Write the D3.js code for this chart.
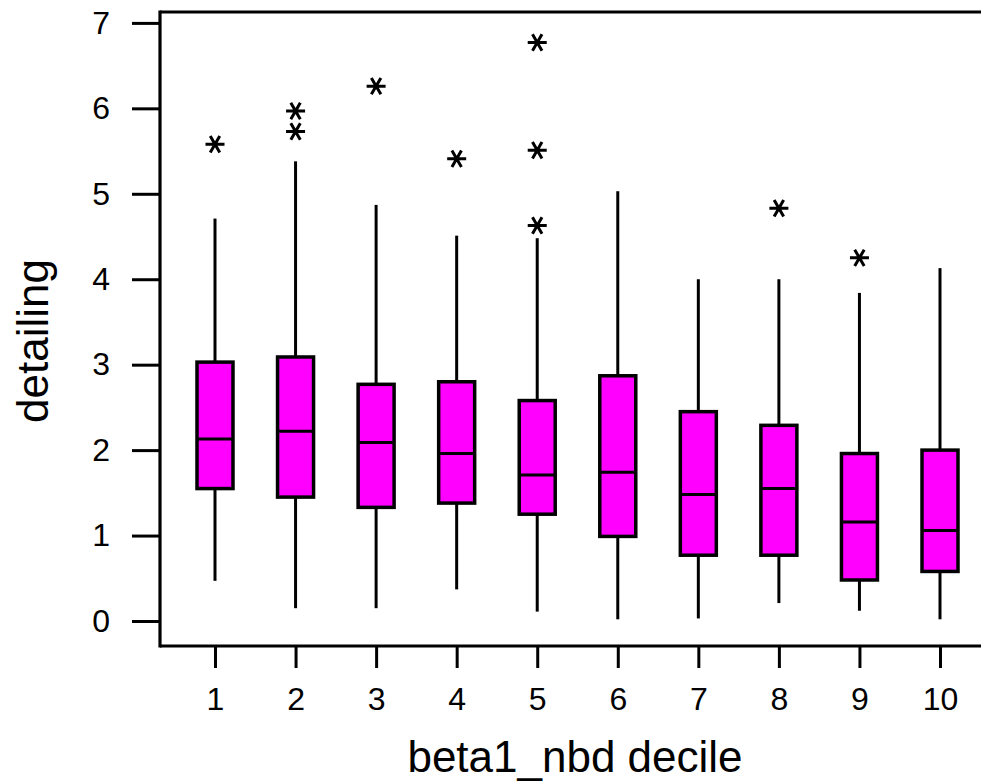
<!DOCTYPE html>
<html>
<head>
<meta charset="utf-8">
<script src="https://cdn.jsdelivr.net/npm/d3@7"></script>
<style>
  html, body { margin: 0; padding: 0; background: #fff; }
  svg { display: block; }
  text { font-family: "Liberation Sans", Arial, sans-serif; fill: #000; }
</style>
</head>
<body>
<svg id="chart" width="981" height="782"></svg>
<script>
const categories = ["1","2","3","4","5","6","7","8","9","10"];
const whiskerLow  = [0.47, 0.15, 0.15, 0.37, 0.11, 0.02, 0.03, 0.21, 0.12, 0.02];
const q1          = [1.55, 1.45, 1.33, 1.38, 1.25, 0.99, 0.77, 0.77, 0.48, 0.58];
const median      = [2.13, 2.22, 2.09, 1.96, 1.71, 1.74, 1.48, 1.55, 1.16, 1.06];
const q3          = [3.03, 3.09, 2.77, 2.80, 2.58, 2.87, 2.45, 2.29, 1.96, 2.00];
const whiskerHigh = [4.71, 5.38, 4.87, 4.51, 4.48, 5.03, 4.00, 4.00, 3.84, 4.13];
const outliers    = [[5.58], [5.73, 5.97], [6.26], [5.41], [4.63, 5.51, 6.77], [], [], [4.83], [4.25], []];
const yTicks = [0, 1, 2, 3, 4, 5, 6, 7];
const xTitle = "beta1_nbd decile";
const yTitle = "detailing";

const svg = d3.select("#chart");
const frame = { left: 160, top: 12, right: 981, bottom: 646 };

const x = d3.scalePoint().domain(categories).range([215, 940]);
const y = d3.scaleLinear().domain([0, 7]).range([621, 22.9]);

const boxW = 36;
const fill = "#FF00FF";

// Frame lines (left, top, bottom)
svg.append("line").attr("x1", frame.left).attr("x2", frame.left)
  .attr("y1", frame.top - 1.5).attr("y2", frame.bottom + 1.5)
  .attr("stroke", "#000").attr("stroke-width", 3.2);
svg.append("line").attr("x1", frame.left).attr("x2", frame.right)
  .attr("y1", frame.top).attr("y2", frame.top)
  .attr("stroke", "#000").attr("stroke-width", 3.2);
svg.append("line").attr("x1", frame.left).attr("x2", frame.right)
  .attr("y1", frame.bottom).attr("y2", frame.bottom)
  .attr("stroke", "#000").attr("stroke-width", 3.2);

// Y axis
const yAxis = d3.axisLeft(y).tickValues(yTicks).tickSize(28).tickPadding(22).tickFormat(d3.format("d"));
const yg = svg.append("g").attr("transform", `translate(${frame.left},0)`).call(yAxis);
yg.attr("font-size", null);
yg.select(".domain").remove();
yg.selectAll(".tick line").attr("stroke", "#000").attr("stroke-width", 3);
yg.selectAll(".tick text").style("font-size", "32px").style("font-family", "'Liberation Sans', Arial, sans-serif").attr("fill", "#000");

// X axis
const xAxis = d3.axisBottom(x).tickSize(22).tickPadding(19);
const xg = svg.append("g").attr("transform", `translate(0,${frame.bottom})`).call(xAxis);
xg.attr("font-size", null);
xg.select(".domain").remove();
xg.selectAll(".tick line").attr("stroke", "#000").attr("stroke-width", 3);
xg.selectAll(".tick text").style("font-size", "32px").style("font-family", "'Liberation Sans', Arial, sans-serif").attr("fill", "#000");

// Boxes
const data = categories.map((c, i) => ({
  c, lo: whiskerLow[i], q1: q1[i], med: median[i], q3: q3[i], hi: whiskerHigh[i], out: outliers[i]
}));

const g = svg.append("g");
const bx = g.selectAll("g.box").data(data).join("g").attr("class", "box");

bx.append("line")
  .attr("x1", d => x(d.c)).attr("x2", d => x(d.c))
  .attr("y1", d => y(d.q3)).attr("y2", d => y(d.hi))
  .attr("stroke", "#000").attr("stroke-width", 3);
bx.append("line")
  .attr("x1", d => x(d.c)).attr("x2", d => x(d.c))
  .attr("y1", d => y(d.q1)).attr("y2", d => y(d.lo))
  .attr("stroke", "#000").attr("stroke-width", 3);
bx.append("rect")
  .attr("x", d => x(d.c) - boxW / 2).attr("width", boxW)
  .attr("y", d => y(d.q3)).attr("height", d => y(d.q1) - y(d.q3))
  .attr("fill", fill).attr("stroke", "#000").attr("stroke-width", 3.5);
bx.append("line")
  .attr("x1", d => x(d.c) - boxW / 2).attr("x2", d => x(d.c) + boxW / 2)
  .attr("y1", d => y(d.med)).attr("y2", d => y(d.med))
  .attr("stroke", "#000").attr("stroke-width", 3);

// Outliers as asterisks (horizontal arm + two diagonals)
const r = 9.5;
const asterisk = `M${-r},0L${r},0M${-r * 0.5},${-r * 0.866}L${r * 0.5},${r * 0.866}M${-r * 0.5},${r * 0.866}L${r * 0.5},${-r * 0.866}`;
bx.each(function(d) {
  d3.select(this).selectAll("path.out").data(d.out).join("path")
    .attr("class", "out")
    .attr("transform", v => `translate(${x(d.c)},${y(v)})`)
    .attr("d", asterisk)
    .attr("fill", "none").attr("stroke", "#000").attr("stroke-width", 3);
});

// Titles
svg.append("text").attr("x", 575).attr("y", 772).attr("text-anchor", "middle")
  .style("font-size", "44px").text(xTitle);
svg.append("text").attr("transform", "translate(48,341) rotate(-90)").attr("text-anchor", "middle")
  .style("font-size", "44px").text(yTitle);
</script>
</body>
</html>
